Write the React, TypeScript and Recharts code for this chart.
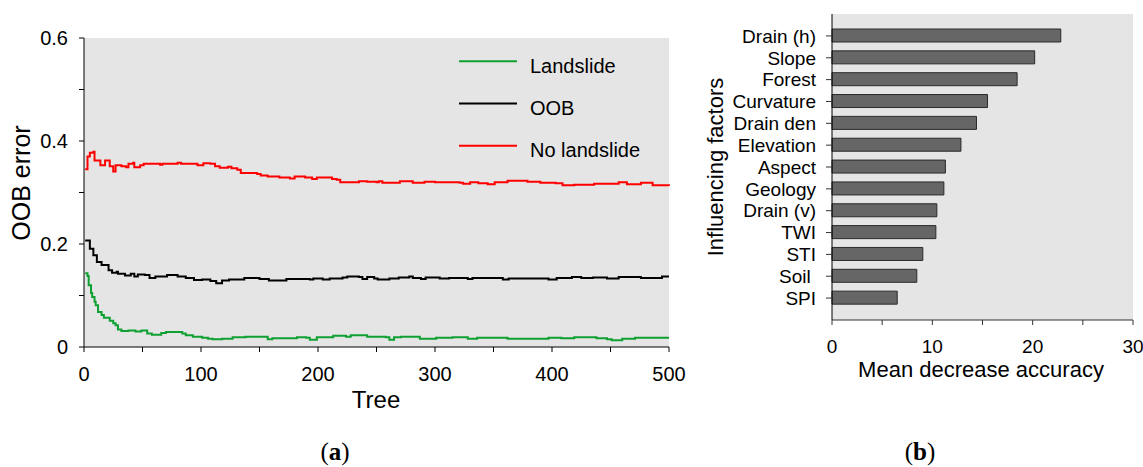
import { LineChart, Line, XAxis, YAxis, CartesianGrid, Legend, BarChart, Bar } from "recharts"

// step points [tree, error]
const landslideSteps: [number, number][] = [
  [1, 0.143], [3, 0.138], [4, 0.12], [6, 0.105], [7, 0.097], [9, 0.088], [10, 0.081], [12, 0.068],
  [15, 0.062], [17, 0.057], [22, 0.051], [25, 0.046], [27, 0.042], [29, 0.034], [32, 0.031], [38, 0.032],
  [44, 0.03], [49, 0.032], [54, 0.026], [58, 0.024], [66, 0.027], [70, 0.029], [78, 0.029], [84, 0.026],
  [87, 0.023], [93, 0.02], [101, 0.018], [106, 0.016], [110, 0.015], [118, 0.016], [127, 0.019], [138, 0.02],
  [147, 0.02], [157, 0.015], [161, 0.017], [182, 0.019], [190, 0.018], [193, 0.014], [199, 0.019], [213, 0.022],
  [224, 0.02], [228, 0.023], [242, 0.02], [258, 0.019], [261, 0.014], [265, 0.019], [271, 0.02], [287, 0.016],
  [301, 0.018], [315, 0.019], [328, 0.016], [336, 0.018], [345, 0.018], [362, 0.016], [397, 0.018], [408, 0.017],
  [419, 0.019], [438, 0.017], [447, 0.015], [451, 0.013], [460, 0.016], [471, 0.018], [500, 0.018],
]

const oobSteps: [number, number][] = [
  [1, 0.207], [5, 0.191], [8, 0.178], [11, 0.165], [15, 0.159], [21, 0.149], [24, 0.144], [28, 0.146],
  [29, 0.142], [35, 0.139], [40, 0.142], [43, 0.137], [46, 0.141], [52, 0.14], [56, 0.134], [61, 0.137],
  [71, 0.14], [80, 0.137], [87, 0.134], [94, 0.13], [101, 0.131], [108, 0.128], [113, 0.124], [118, 0.129],
  [124, 0.131], [137, 0.134], [150, 0.132], [158, 0.129], [173, 0.132], [193, 0.131], [196, 0.133], [204, 0.131],
  [210, 0.133], [221, 0.135], [225, 0.137], [235, 0.136], [238, 0.132], [242, 0.136], [248, 0.133], [251, 0.131],
  [261, 0.133], [269, 0.135], [278, 0.137], [281, 0.134], [288, 0.132], [292, 0.135], [304, 0.133], [312, 0.134],
  [328, 0.132], [332, 0.134], [358, 0.131], [363, 0.133], [397, 0.131], [404, 0.134], [417, 0.136], [425, 0.134],
  [435, 0.135], [447, 0.133], [457, 0.136], [476, 0.134], [494, 0.137], [500, 0.137],
]

const noLandslideSteps: [number, number][] = [
  [1, 0.345], [3, 0.37], [5, 0.377], [8, 0.379], [9, 0.362], [14, 0.353], [18, 0.362], [22, 0.351],
  [25, 0.341], [27, 0.353], [32, 0.351], [36, 0.349], [38, 0.356], [42, 0.358], [43, 0.349], [48, 0.353],
  [51, 0.356], [65, 0.354], [67, 0.356], [80, 0.358], [83, 0.356], [97, 0.353], [102, 0.357], [108, 0.356],
  [112, 0.351], [116, 0.348], [123, 0.35], [126, 0.347], [131, 0.344], [134, 0.338], [148, 0.336], [151, 0.333],
  [157, 0.331], [167, 0.329], [176, 0.327], [180, 0.331], [189, 0.329], [195, 0.326], [199, 0.329], [212, 0.326],
  [216, 0.325], [219, 0.32], [235, 0.322], [242, 0.321], [250, 0.32], [252, 0.322], [255, 0.319], [270, 0.322],
  [281, 0.319], [291, 0.321], [300, 0.32], [321, 0.319], [324, 0.317], [330, 0.32], [337, 0.318], [345, 0.316],
  [351, 0.32], [362, 0.323], [379, 0.321], [390, 0.319], [403, 0.318], [409, 0.314], [419, 0.315], [436, 0.317],
  [457, 0.32], [464, 0.316], [476, 0.319], [486, 0.314], [500, 0.313],
]

const seriesOrder = ["Landslide", "OOB", "No landslide"]
const errorTicks = [0, 0.1, 0.2, 0.3, 0.4, 0.5, 0.6]
const treeTicks = [0, 50, 100, 150, 200, 250, 300, 350, 400, 450, 500]

const factors = ["Drain (h)", "Slope", "Forest", "Curvature", "Drain den", "Elevation", "Aspect", "Geology", "Drain (v)", "TWI", "STI", "Soil\u00a0", "SPI"]
const meanDecrease = [22.8, 20.2, 18.45, 15.5, 14.4, 12.85, 11.3, 11.15, 10.45, 10.35, 9.05, 8.45, 6.5]
const accuracyTicks = [0, 5, 10, 15, 20, 25, 30]

const toRows = (steps: [number, number][]) => steps.map(([tree, err]) => ({ tree, err }))
const barRows = factors.map((factor, i) => ({ factor, mda: meanDecrease[i] }))

const BG = "#e5e5e5"

function Title({ txt, cx, cy, rotate = 0, size }: any) {
  return (
    <text
      x={cx}
      y={cy}
      textAnchor="middle"
      dominantBaseline="central"
      transform={rotate ? `rotate(${rotate} ${cx} ${cy})` : undefined}
      fontSize={size}
      fill="#000"
    >
      {txt}
    </text>
  )
}

function OobLegend({ payload }: any) {
  const items = [...(payload || [])].sort(
    (a: any, b: any) => seriesOrder.indexOf(a.value) - seriesOrder.indexOf(b.value)
  )
  return (
    <svg width={200} height={140}>
      {items.map((entry: any, i: number) => {
        const y = 21.3 + 42.2 * i
        return (
          <g key={entry.value}>
            <line x1={4} x2={62} y1={y} y2={y} stroke={entry.color} strokeWidth={2} />
            <text x={75} y={y + 11.3} fontSize={20} fill="#000">
              {entry.value}
            </text>
          </g>
        )
      })}
    </svg>
  )
}

const captionStyle = {
  position: "absolute" as const,
  top: 439,
  width: 60,
  textAlign: "center" as const,
  fontFamily: "'Liberation Serif', 'DejaVu Serif', serif",
  fontSize: 25,
  lineHeight: "25px",
}

export default function App() {
  const axis = { stroke: "#000" }
  return (
    <div
      style={{
        position: "absolute",
        left: 0,
        top: 0,
        width: 1143,
        height: 467,
        background: "#fff",
        fontFamily: "'Liberation Sans', Arial, sans-serif",
      }}
    >
      <div style={{ position: "absolute", left: 0, top: 0 }}>
        <LineChart width={700} height={420} margin={{ top: 38, right: 31, bottom: 13, left: 0 }}>
          <CartesianGrid fill={BG} horizontal={false} vertical={false} />
          <XAxis
            type="number"
            dataKey="tree"
            domain={[0, 500]}
            ticks={treeTicks}
            interval={0}
            height={60}
            axisLine={axis}
            tickLine={axis}
            tickSize={5}
            tickMargin={15}
            tick={{ fill: "#000", fontSize: 20 }}
            tickFormatter={(v: number) => (v % 100 === 0 ? String(v) : "")}
            label={<Title txt="Tree" cx={376} cy={399} size={24} />}
          />
          <YAxis
            type="number"
            domain={[0, 0.6]}
            ticks={errorTicks}
            interval={0}
            width={84}
            axisLine={axis}
            tickLine={axis}
            tickSize={5}
            tickMargin={11}
            tick={{ fill: "#000", fontSize: 20 }}
            tickFormatter={(v: number) => (Math.round(v * 10) % 2 === 0 ? (v === 0 ? "0" : v.toFixed(1)) : "")}
            label={<Title txt="OOB error" cx={21} cy={183} rotate={-90} size={25} />}
          />
          <Legend
            layout="vertical"
            align="center"
            verticalAlign="middle"
            wrapperStyle={{ left: 455, top: 40, width: 200 }}
            content={<OobLegend />}
          />
          <Line data={toRows(landslideSteps)} dataKey="err" name="Landslide" type="stepAfter" stroke="#0fa032" strokeWidth={2} dot={false} isAnimationActive={false} />
          <Line data={toRows(oobSteps)} dataKey="err" name="OOB" type="stepAfter" stroke="#000" strokeWidth={2} dot={false} isAnimationActive={false} />
          <Line data={toRows(noLandslideSteps)} dataKey="err" name="No landslide" type="stepAfter" stroke="#ff0000" strokeWidth={2} dot={false} isAnimationActive={false} />
        </LineChart>
      </div>

      <div style={{ position: "absolute", left: 690, top: 0 }}>
        <BarChart
          width={453}
          height={400}
          data={barRows}
          layout="vertical"
          margin={{ top: 14, right: 10, bottom: 20, left: 0 }}
        >
          <CartesianGrid fill={BG} horizontal={false} vertical={false} />
          <XAxis
            type="number"
            domain={[0, 30]}
            ticks={accuracyTicks}
            interval={0}
            height={60}
            axisLine={{ stroke: "#333" }}
            tickLine={{ stroke: "#333" }}
            tickSize={5}
            tickMargin={15}
            tick={{ fill: "#000", fontSize: 19 }}
            tickFormatter={(v: number) => (v % 10 === 0 ? String(v) : "")}
            label={<Title txt="Mean decrease accuracy" cx={291} cy={369} size={22} />}
          />
          <YAxis
            type="category"
            dataKey="factor"
            width={142}
            padding={{ top: 11, bottom: 11 }}
            interval={0}
            axisLine={axis}
            tickLine={{ stroke: "#333" }}
            tickSize={6}
            tickMargin={10}
            tick={{ fill: "#000", fontSize: 19 }}
            label={<Title txt="Influencing factors" cx={25} cy={167} rotate={-90} size={22} />}
          />
          <Bar dataKey="mda" fill="#666666" stroke="#2a2a2a" strokeWidth={1} barSize={13} isAnimationActive={false} />
        </BarChart>
      </div>

      <div style={{ ...captionStyle, left: 305 }}>
        (<b>a</b>)
      </div>
      <div style={{ ...captionStyle, left: 890 }}>
        (<b>b</b>)
      </div>
    </div>
  )
}
